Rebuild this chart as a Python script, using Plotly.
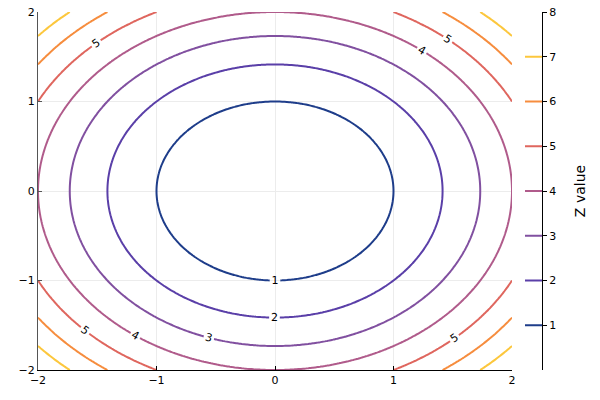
import numpy as np
import plotly.graph_objects as go

# ---- data ----
x_vals = np.linspace(-2, 2, 201)
y_vals = np.linspace(-2, 2, 201)
levels = [1, 2, 3, 4, 5, 6, 7]
labeled_levels = [1, 2, 3, 4, 5]
level_colors = ["#1e3d8a", "#5a3fa8", "#8150a0", "#b05b8b", "#df665e", "#f68d3e", "#fcc73d"]
cbar_ticks = [1, 2, 3, 4, 5, 6, 7, 8]
x_ticks = [-2, -1, 0, 1, 2]
y_ticks = [-2, -1, 0, 1, 2]

X, Y = np.meshgrid(x_vals, y_vals)
Z = X**2 + Y**2

FONT = "DejaVu Sans"
fig = go.Figure()
for lv, c in zip(levels, level_colors):
    fig.add_trace(go.Contour(
        x=x_vals, y=y_vals, z=Z,
        contours=dict(start=lv, end=lv, size=1, coloring="none",
                      showlabels=lv in labeled_levels,
                      labelfont=dict(size=11, color="black", family=FONT)),
        line=dict(width=2, color=c), showscale=False, hoverinfo="skip",
    ))

# manual colorbar
for lv, c in zip(levels, level_colors):
    fig.add_trace(go.Scatter(x=[0, 1], y=[lv, lv], mode="lines",
                             line=dict(color=c, width=2), xaxis="x2", yaxis="y2",
                             showlegend=False, hoverinfo="skip"))

W, H = 600, 400
L, R, T, B = 38, 58, 12, 30
pw = W - L - R
fig.update_layout(
    width=W, height=H, margin=dict(l=L, r=R, t=T, b=B, autoexpand=False),
    plot_bgcolor="white", paper_bgcolor="white", showlegend=False,
    font=dict(family=FONT, size=11, color="black"),
    xaxis=dict(domain=[0, (512 - L) / pw], range=[-2, 2], tickvals=x_ticks,
               showgrid=True, gridcolor="#ececec", gridwidth=1, zeroline=False,
               showline=True, linecolor="black", linewidth=1, ticks="inside",
               ticklen=4, tickcolor="black", mirror=False, anchor="y",
               automargin=False),
    yaxis=dict(range=[-2, 2], tickvals=y_ticks,
               showgrid=True, gridcolor="#ececec", gridwidth=1, zeroline=False,
               showline=True, linecolor="#555555", linewidth=1, ticks="inside",
               ticklen=4, tickcolor="#555555", anchor="x", automargin=False),
    xaxis2=dict(domain=[(525 - L) / pw, 1], range=[0, 1], visible=False,
                anchor="y2", fixedrange=True, automargin=False),
    yaxis2=dict(range=[0, 8], tickvals=cbar_ticks, side="right", anchor="x2",
                showgrid=False, zeroline=False, showline=True, linecolor="black",
                linewidth=1, ticks="outside", ticklen=4, tickcolor="black",
                automargin=False,
                title=dict(text="Z value", font=dict(size=14), standoff=19)),
)

fig.write_html("out.html", config={"displayModeBar": False},
               post_script="document.body.style.margin='0';")
